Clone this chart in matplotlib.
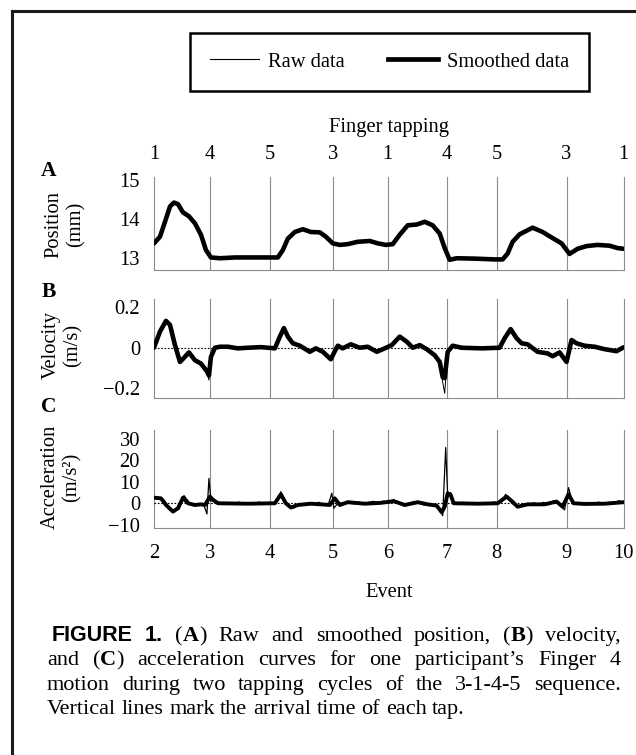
import matplotlib
matplotlib.use("Agg")
import matplotlib.pyplot as plt
from matplotlib.lines import Line2D

# -------------------------
# Data (x in frames, 0 = event 2)
# -------------------------

tap_frames = [0, 56, 116, 179, 234, 293, 343, 413, 470]
event_labels = ["2", "3", "4", "5", "6", "7", "8", "9", "10"]
finger_labels = ["1", "4", "5", "3", "1", "4", "5", "3", "1"]

pos_frames = [0, 6, 11, 16, 20, 24, 29, 35, 41, 47, 52, 57, 66, 81, 101, 116, 124, 129, 134, 141,
              149, 157, 166, 172, 179, 186, 194, 204, 216, 224, 232, 239, 246, 254, 263, 271, 279, 286, 291, 296,
              303, 321, 341, 349, 354, 359, 366, 379, 389, 398, 408, 416, 424, 433, 444, 456, 464, 470]
pos_smooth = [13.38, 13.55, 13.93, 14.32, 14.42, 14.38, 14.17, 14.07, 13.89, 13.60,
              13.21, 13.02, 13.00, 13.02, 13.02, 13.02, 13.02, 13.21, 13.50, 13.67,
              13.74, 13.67, 13.66, 13.55, 13.38, 13.34, 13.36, 13.42, 13.44, 13.38,
              13.34, 13.36, 13.60, 13.84, 13.86, 13.93, 13.84, 13.63, 13.26, 12.96,
              13.00, 12.99, 12.97, 12.97, 13.12, 13.42, 13.61, 13.78, 13.67, 13.53,
              13.38, 13.11, 13.24, 13.31, 13.34, 13.32, 13.26, 13.24]
# raw position sits right under the smoothed trace in the figure
pos_raw = pos_smooth

vel_frames = [0, 6, 12, 16, 21, 26, 30, 35, 41, 47, 53, 55, 57, 61, 66, 74, 84, 94, 107, 121,
              126, 130, 134, 139, 146, 156, 162, 169, 177, 181, 184, 189, 197, 206, 214, 223, 231, 238, 246, 253,
              259, 266, 273, 281, 286, 289, 291, 294, 299, 308, 328, 346, 351, 357, 363, 368, 374, 384, 394, 399,
              406, 413, 418, 423, 431, 441, 451, 463, 470]
vel_smooth = [0, 0.08, 0.133, 0.113, 0.013, -0.07, -0.05, -0.023, -0.062, -0.078,
              -0.117, -0.137, -0.045, 0, 0.005, 0.005, -0.003, 0, 0.003, -0.003,
              0.055, 0.097, 0.055, 0.022, 0.01, -0.02, -0.003, -0.02, -0.057, -0.017,
              0.01, -0.003, 0.017, 0, 0.005, -0.02, -0.003, 0.013, 0.055, 0.03,
              0, 0.013, -0.007, -0.037, -0.07, -0.145, -0.15, -0.02, 0.01, 0,
              -0.003, 0, 0.047, 0.092, 0.047, 0.022, 0.017, -0.02, -0.028, -0.042,
              -0.023, -0.07, 0.038, 0.022, 0.01, 0.005, -0.007, -0.017, 0.002]
vel_raw = [0, 0.08, 0.135, 0.113, 0.013, -0.07, -0.05, -0.023, -0.062, -0.078,
           -0.12, -0.16, -0.045, 0, 0.005, 0.005, -0.003, 0, 0.003, -0.003,
           0.055, 0.099, 0.055, 0.022, 0.01, -0.02, -0.003, -0.02, -0.06, -0.017,
           0.01, -0.003, 0.017, 0, 0.005, -0.02, -0.003, 0.013, 0.055, 0.03,
           0, 0.013, -0.007, -0.037, -0.07, -0.17, -0.225, -0.02, 0.01, 0,
           -0.003, 0, 0.047, 0.094, 0.047, 0.022, 0.017, -0.02, -0.028, -0.042,
           -0.023, -0.078, 0.045, 0.022, 0.01, 0.005, -0.007, -0.017, 0.002]

acc_frames = [0, 7, 12, 19, 24, 29, 34, 41, 47, 51, 56, 59, 64, 94, 121, 127, 132, 137, 144, 157,
              167, 176, 181, 186, 194, 211, 227, 240, 251, 264, 274, 283, 288, 291, 294, 297, 300, 324, 344, 353,
              358, 364, 374, 391, 403, 409, 415, 420, 431, 451, 470]
acc_smooth = [2.6, 2.3, -0.8, -3.9, -2.3, 2.6, 0, -0.8, -0.5, -0.8,
              3.1, 1.6, 0, -0.2, 0, 4.2, 0, -2.0, -0.8, -0.2,
              -0.5, -0.8, 2.3, -0.8, 0.5, -0.2, 0.2, 1.0, -0.8, 0.5,
              -0.5, -1.1, -4.2, -1.6, 4.7, 3.9, 0, -0.2, 0, 3.1,
              1.1, -1.6, -0.5, -0.5, 0.8, -1.6, 4.2, 0, -0.3, -0.2, 0.5]

acc_raw_frames = [0, 5, 10, 15, 20, 25, 30, 35, 40, 45, 50, 53, 55, 57, 60, 65, 70, 75, 80, 85,
                  90, 95, 100, 105, 110, 115, 120, 125, 127, 130, 135, 140, 145, 150, 155, 160, 165, 170, 175, 178,
                  180, 185, 190, 195, 200, 205, 210, 215, 220, 225, 230, 235, 240, 245, 250, 255, 260, 265, 270, 275,
                  280, 285, 289, 292, 294, 297, 300, 305, 310, 315, 320, 325, 330, 335, 340, 345, 350, 352, 355, 360,
                  365, 370, 375, 380, 385, 390, 395, 400, 405, 409, 411, 415, 418, 420, 425, 430, 435, 440, 445, 450,
                  455, 460, 465, 470]
acc_raw = [3.0, 2.2, 1.5, -1.8, -3.5, -2.8, 3.6, 0.5, -1.2, -0.2,
           -1.0, -5.0, 11.6, 1.0, 2.0, 0.3, -0.6, 0.4, -0.3, 0.6,
           -0.4, 0.2, -0.5, 0.6, -0.3, 0.4, -0.2, 2.5, 5.4, 1.5,
           -1.2, -2.2, -0.4, -1.0, 0.3, -0.6, 0.5, -0.9, 0.2, 4.7,
           -2.3, 0.5, -0.4, 0.9, -0.3, 0.6, -0.5, 0.4, 0.9, -0.2,
           1.0, 0.3, 1.6, 0.4, -1.2, -0.3, 0.8, 0.2, -0.8, -0.2,
           -1.0, -1.8, -5.8, 26.0, 3.5, 5.0, 0.6, -0.4, 0.5, -0.3,
           0.4, -0.5, 0.3, -0.4, 0.6, 0.2, 2.5, 4.2, 1.8, -0.6,
           -1.8, -0.3, -1.0, 0.2, -0.6, 0.4, -0.7, 1.2, 0.3, -2.2,
           -3.1, 7.3, 2.0, -0.5, 0.4, -0.7, 0.3, -0.5, 0.6, -0.6,
           0.4, -0.3, 1.2, 0.4]

caption_lines = [
    "^FIGURE ^1. (*A*) Raw and smoothed position, (*B*) velocity,",
    "and (*C*) acceleration curves for one participant\u2019s Finger 4",
    "motion during two tapping cycles of the 3-1-4-5 sequence.",
    "Vertical lines mark the arrival time of each tap.",
]

# -------------------------
# Figure
# -------------------------

plt.rcParams["font.family"] = ["Liberation Serif", "DejaVu Serif"]
plt.rcParams["font.size"] = 14.8

W, H = 636, 755
fig = plt.figure(figsize=(W / 100, H / 100), dpi=100)


def fx(x):
    return x / W


def fy(y):
    return 1 - y / H


GRID = "#8c8c8c"
left, right = 154, 623.5


def make_axes(top, bottom):
    ax = fig.add_axes([fx(left), fy(bottom), (right - left) / W, (bottom - top) / H])
    for t in tap_frames:
        ax.axvline(t, color=GRID, lw=0.8, zorder=1, clip_on=False)
    ax.set_xlim(0, 470)
    for s in ["top", "right", "left"]:
        ax.spines[s].set_visible(False)
    ax.spines["bottom"].set_color(GRID)
    ax.spines["bottom"].set_linewidth(0.8)
    ax.set_xticks(tap_frames)
    ax.tick_params(length=0, pad=10)
    ax.patch.set_alpha(0)
    return ax


# Panel A
ax_a = make_axes(176.7, 270)
ax_a.plot(pos_frames, pos_raw, color="black", lw=0.7, zorder=3)
ax_a.plot(pos_frames, pos_smooth, color="black", lw=3.3, zorder=4,
          solid_joinstyle="round", solid_capstyle="round")
ax_a.set_ylim(12.70, 15.08)
ax_a.set_yticks([13, 14, 15])
ax_a.set_yticklabels(["13", "14", "15"])
ax_a.tick_params(axis="x", top=True, labeltop=True, bottom=False, labelbottom=False, pad=9)
ax_a.set_xticklabels(finger_labels)

# Panel B
ax_b = make_axes(299, 397.7)
ax_b.axhline(0, color="black", lw=0.8, ls=(0, (1.5, 1.5)), zorder=2)
ax_b.plot(vel_frames, vel_raw, color="black", lw=0.7, zorder=3)
ax_b.plot(vel_frames, vel_smooth, color="black", lw=3.3, zorder=4,
          solid_joinstyle="round", solid_capstyle="round")
ax_b.set_ylim(-0.247, 0.241)
ax_b.set_yticks([-0.2, 0, 0.2])
ax_b.set_yticklabels(["\u22120.2", "0", "0.2"])
ax_b.tick_params(axis="x", labelbottom=False)

# Panel C
ax_c = make_axes(430, 527.7)
ax_c.axhline(0, color="black", lw=0.8, ls=(0, (1.5, 1.5)), zorder=2)
ax_c.plot(acc_raw_frames, acc_raw, color="black", lw=0.9, zorder=3)
ax_c.plot(acc_frames, acc_smooth, color="black", lw=2.8, zorder=4,
          solid_joinstyle="round", solid_capstyle="round")
ax_c.set_ylim(-11.4, 34.2)
ax_c.set_yticks([-10, 0, 10, 20, 30])
ax_c.set_yticklabels(["\u221210", "0", "10", "20", "30"])
ax_c.set_xticklabels(event_labels)
ax_c.tick_params(axis="x", pad=12)

# labels
fig.text(fx(389), fy(132), "Finger tapping", ha="center", va="baseline")
fig.text(fx(389), fy(597), "Event", ha="center", va="baseline")
for letter, yb in [("A", 176), ("B", 297), ("C", 412)]:
    fig.text(fx(48.5), fy(yb), letter, ha="center", va="baseline", fontweight="bold", fontsize=15.5)
for lab, x, y in [("Position\n(mm)", 65, 224), ("Velocity\n(m/s)", 62, 345),
                  ("Acceleration\n(m/s\u00b2)", 61, 477)]:
    fig.text(fx(x), fy(y), lab, rotation=90, ha="center", va="center",
             multialignment="center", linespacing=1.15)

# legend
handles = [Line2D([], [], color="black", lw=0.8), Line2D([], [], color="black", lw=3.4)]
leg = fig.legend(handles, ["Raw data", "Smoothed data"], loc="center",
                 bbox_to_anchor=(fx(389.4), fy(62)), ncol=2, frameon=True, fancybox=False,
                 edgecolor="black", framealpha=1, handlelength=2.4, handletextpad=0.45,
                 columnspacing=2.1, borderpad=0.95)
leg.get_frame().set_linewidth(1.8)

# outer frame
fig.add_artist(Line2D([fx(12), fx(12)], [fy(11), 0], color="#1a1a1a", lw=2.2,
                      transform=fig.transFigure, solid_capstyle="projecting"))
fig.add_artist(Line2D([fx(12), 1], [fy(11), fy(11)], color="#1a1a1a", lw=2.2,
                      transform=fig.transFigure, solid_capstyle="projecting"))

# caption, justified
renderer = fig.canvas.get_renderer()
CAP = 16


def piece_props(style):
    if style == "sans":
        return dict(family=["Liberation Sans", "DejaVu Sans"], fontweight="bold", fontsize=CAP - 0.5)
    if style == "bold":
        return dict(fontweight="bold", fontsize=CAP)
    return dict(fontsize=CAP)


def split_word(word):
    if word.startswith("^"):
        return [(word[1:], "sans")]
    parts = word.split("*")
    return [(p, "bold" if i % 2 else "reg") for i, p in enumerate(parts) if p]


baselines = [641, 665, 690, 714]
for i, line in enumerate(caption_lines):
    x0 = 52 if i == 0 else 47
    x1 = 621
    words = []
    for w in line.split(" "):
        arts = []
        for text, style in split_word(w):
            t = fig.text(0, fy(baselines[i]), text, va="baseline", ha="left", **piece_props(style))
            arts.append((t, t.get_window_extent(renderer).width))
        words.append(arts)
    widths = [sum(wd for _, wd in arts) for arts in words]
    if i < len(caption_lines) - 1:
        gap = (x1 - x0 - sum(widths)) / (len(words) - 1)
    else:
        gap = 0.25 * CAP * 100 / 72
    x = x0
    for arts, wsum in zip(words, widths):
        xx = x
        for t, wd in arts:
            t.set_x(fx(xx))
            xx += wd
        x += wsum + gap

fig.savefig("out.png", dpi=100)
